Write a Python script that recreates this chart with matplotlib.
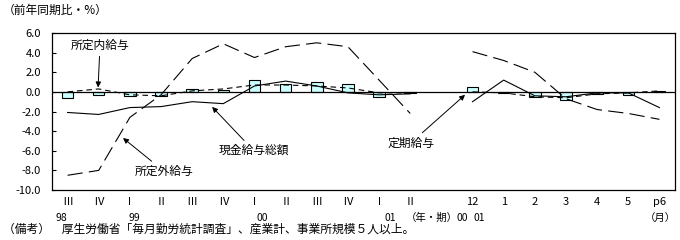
#!/usr/bin/env python3
"""
賃金の前年同期比 推移図（四半期 + 月次）
"""

import numpy as np
import matplotlib
matplotlib.use("Agg")
import matplotlib.pyplot as plt
from matplotlib.transforms import blended_transform_factory

# ============================================================================
# データ
# ============================================================================

nan = np.nan

# 横軸ラベル（1段目）: 98Ⅲ〜01Ⅱ の四半期、空き1枠、00/12〜01/p6 の月次
X_LABELS = ["Ⅲ", "Ⅳ", "Ⅰ", "Ⅱ", "Ⅲ", "Ⅳ", "Ⅰ", "Ⅱ", "Ⅲ", "Ⅳ", "Ⅰ", "Ⅱ",
            "", "12", "1", "2", "3", "4", "5", "p6"]

# 横軸ラベル（2段目）
YEAR_LABELS = ["98", "99", "00", "01", "（年・期）", "00", "01", "（月）"]

# 定期給与（棒）
TEIKI = [-0.6, -0.3, -0.4, -0.4, 0.3, 0.2, 1.2, 0.8, 1.0, 0.8, -0.5, -0.1,
         nan, 0.5, -0.1, -0.5, -0.8, -0.2, -0.3, 0.1]

# 所定内給与（短い破線）
SHOTEINAI = [0.0, 0.3, -0.3, -0.4, 0.1, 0.3, 0.7, 0.7, 0.6, 0.4, -0.1, -0.1,
             nan, 0.0, -0.1, -0.5, -0.6, -0.2, -0.1, 0.1]

# 現金給与総額（実線）
GENKIN = [-2.1, -2.3, -1.6, -1.5, -1.0, -1.2, 0.6, 1.1, 0.6, -0.1, -0.3, -0.2,
          nan, -1.0, 1.2, -0.4, -0.5, -0.1, -0.1, -1.6]

# 所定外給与（長い破線）
SHOTEIGAI = [-8.5, -8.0, -2.6, -0.3, 3.4, 4.9, 3.5, 4.6, 5.0, 4.6, 1.2, -2.2,
             nan, 4.1, 3.2, 2.0, -0.7, -1.8, -2.2, -2.8]

# ============================================================================
# 体裁
# ============================================================================

YEAR_LABEL_POS = [-0.21, 2.13, 6.24, 10.35, 11.68, 12.66, 13.2, 19.02]
FONT = ["Noto Sans CJK JP", "DejaVu Sans"]
BAR_COLOR = "#CCFFFF"

plt.rcParams["font.family"] = FONT
plt.rcParams["lines.scale_dashes"] = False


def main():
    fig = plt.figure(figsize=(6.8, 2.4), dpi=100)
    ax = fig.add_axes([52 / 680, 1 - 190 / 240, 623 / 680, 157 / 240])

    x = np.arange(len(X_LABELS))

    # 棒と折れ線
    ax.bar(x, TEIKI, width=0.37, color=BAR_COLOR, edgecolor="black",
           linewidth=0.8, zorder=2)
    ax.axhline(0, color="black", linewidth=0.9, zorder=3)
    ax.plot(x, GENKIN, color="black", linewidth=0.8, zorder=4)
    ax.plot(x, SHOTEINAI, color="black", linewidth=0.8,
            dashes=(4.0, 2.8), zorder=4)
    ax.plot(x, SHOTEIGAI, color="black", linewidth=0.8,
            dashes=(11.0, 4.5), zorder=4)

    # 軸
    ax.set_xlim(-0.5, len(X_LABELS) - 0.5)
    ax.set_ylim(-10, 6)
    ax.set_yticks(np.arange(-10, 6.1, 2))
    ax.set_yticklabels([f"{v:.1f}" for v in np.arange(-10, 6.1, 2)])
    ax.set_xticks(x)
    ax.set_xticklabels(X_LABELS)
    ax.tick_params(axis="y", direction="in", length=3, width=0.8,
                   labelsize=8, pad=8)
    ax.tick_params(axis="x", length=0, labelsize=8, pad=5)
    for sp in ax.spines.values():
        sp.set_linewidth(0.9)
        sp.set_color("black")

    trans = blended_transform_factory(ax.transData, ax.transAxes)
    for pos, lab in zip(YEAR_LABEL_POS, YEAR_LABELS):
        ax.text(pos, -0.18, lab, transform=trans, ha="center", va="center",
                fontsize=7.5)

    # 注記と矢印
    arrow = dict(arrowstyle="-|>", color="black", lw=0.7,
                 mutation_scale=8, shrinkA=1, shrinkB=0)
    ax.annotate("所定内給与", xy=(0.98, 0.45), xytext=(1.04, 4.7),
                ha="center", va="center", fontsize=8.5, arrowprops=arrow)
    ax.annotate("現金給与総額", xy=(4.64, -1.53), xytext=(5.98, -6.0),
                ha="center", va="center", fontsize=8.5, arrowprops=arrow)
    ax.annotate("所定外給与", xy=(1.78, -4.7), xytext=(3.1, -8.1),
                ha="center", va="center", fontsize=8.5, arrowprops=arrow)
    ax.annotate("定期給与", xy=(12.76, -0.3), xytext=(11.02, -5.2),
                ha="center", va="center", fontsize=8.5, arrowprops=arrow)

    # 上部・下部のテキスト
    fig.text(3 / 680, 1 - 10 / 240, "（前年同期比・%）", ha="left",
             va="center", fontsize=8.5)
    fig.text(3 / 680, 1 - 229 / 240,
             "（備考）　厚生労働省「毎月勤労統計調査」、産業計、事業所規模５人以上。",
             ha="left", va="center", fontsize=8.5)

    fig.savefig("out.png", dpi=100)
    plt.close(fig)


if __name__ == "__main__":
    main()
